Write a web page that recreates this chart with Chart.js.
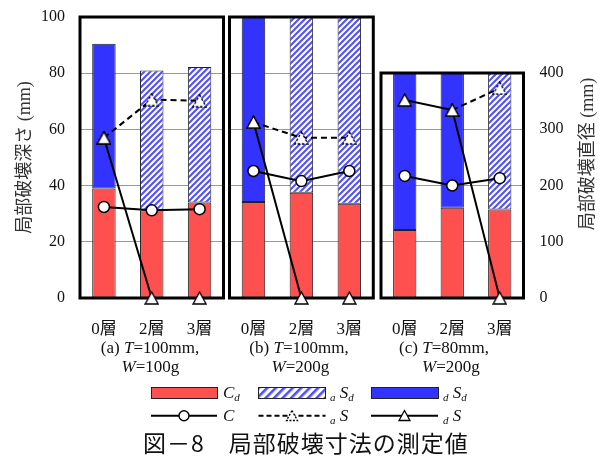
<!DOCTYPE html>
<html><head><meta charset="utf-8">
<script src="https://cdn.jsdelivr.net/npm/chart.js"></script>
<style>
html,body{margin:0;padding:0;background:#fff;}
#wrap{position:relative;width:602px;height:457px;overflow:hidden;background:#fff;}
canvas{position:absolute;left:0;top:0;}
.t{position:absolute;white-space:nowrap;color:#111;font-family:'Liberation Serif','Noto Sans CJK JP',serif;font-size:17px;line-height:19px;}
.cap{width:200px;text-align:center;}
.lg sub{font-size:11px;vertical-align:-3px;font-style:italic;line-height:0;}
#rtitle{position:absolute;width:200px;height:22px;line-height:22px;text-align:center;left:486.7px;top:143px;transform:rotate(-90deg);font-family:'Liberation Serif','Noto Sans CJK JP',serif;font-size:18px;color:#333;white-space:nowrap;}
#fig{position:absolute;left:5px;top:427px;width:602px;text-align:center;font-family:'Noto Sans CJK JP',sans-serif;font-size:23px;line-height:30px;letter-spacing:1px;color:#111;white-space:nowrap;}
</style></head>
<body><div id="wrap">
<canvas id="ca" width="602" height="457"></canvas>
<canvas id="cb" width="602" height="457"></canvas>
<canvas id="cc" width="602" height="457"></canvas>

<div class="t cap" style="left:50px;top:338px">(a) <i>T</i>=100mm,</div>
<div class="t cap" style="left:50.5px;top:357px"><i>W</i>=100g</div>
<div class="t cap" style="left:199px;top:338px">(b) <i>T</i>=100mm,</div>
<div class="t cap" style="left:200.5px;top:357px"><i>W</i>=200g</div>
<div class="t cap" style="left:344px;top:338px">(c) <i>T</i>=80mm,</div>
<div class="t cap" style="left:351px;top:357px"><i>W</i>=200g</div>

<svg style="position:absolute;left:0;top:0" width="602" height="457">
<defs>
<pattern id="hatch" width="6" height="6" patternUnits="userSpaceOnUse" patternTransform="rotate(45)">
<rect width="6" height="6" fill="#fff"/><rect width="2.6" height="6" fill="#4f4fff"/>
</pattern>
</defs>
<rect x="151.5" y="387.5" width="66" height="11" fill="#ff5050" stroke="#222" stroke-width="1"/>
<rect x="258.5" y="387.5" width="67" height="11" fill="url(#hatch)" stroke="#222" stroke-width="1"/>
<rect x="371.5" y="387.5" width="67" height="11" fill="#3333ff" stroke="#222" stroke-width="1"/>
<line x1="151" y1="415.7" x2="217" y2="415.7" stroke="#000" stroke-width="2"/>
<circle cx="184" cy="415.7" r="5" fill="#fff" stroke="#000" stroke-width="1.4"/>
<line x1="258.5" y1="415.7" x2="325.5" y2="415.7" stroke="#000" stroke-width="2" stroke-dasharray="5,3"/>
<polygon points="292,410.5 297.5,420.5 286.5,420.5" fill="#fff" stroke="#000" stroke-width="1.3" stroke-dasharray="2,1.5"/>
<line x1="371" y1="415.7" x2="438" y2="415.7" stroke="#000" stroke-width="2"/>
<polygon points="404.5,410.5 410,420.5 399,420.5" fill="#fff" stroke="#000" stroke-width="1.3"/>
</svg>
<div class="t lg" style="left:223px;top:382.7px"><i>C</i><sub>d</sub></div>
<div class="t lg" style="left:330px;top:382.7px"><sub>a</sub> <i>S</i><sub>d</sub></div>
<div class="t lg" style="left:443px;top:382.7px"><sub>d</sub> <i>S</i><sub>d</sub></div>
<div class="t lg" style="left:223px;top:405.5px"><i>C</i></div>
<div class="t lg" style="left:330px;top:405.5px"><sub>a</sub> <i>S</i></div>
<div class="t lg" style="left:443px;top:405.5px"><sub>d</sub> <i>S</i></div>

<div id="rtitle">局部破壊直径 (mm)</div>
<div id="fig">図－8　局部破壊寸法の測定値</div>
</div>
<script>
// ---- data ----
const layers = ['0層', '2層', '3層'];

// (a) T=100mm, W=100g   bars: depth (mm), lines: diameter (mm)
const cdA  = [39.0, 31.2, 34.0];
const asdA = [null, 49.8, 48.2];
const dsdA = [51.5, null, null];
const cA   = [162, 156, 158];
const asA  = [285, 353, 351];
const dsA  = [285, 0, 0];

// (b) T=100mm, W=200g
const cdB  = [34.2, 37.5, 33.5];
const asdB = [null, 68.0, 72.0];
const dsdB = [71.0, null, null];
const cB   = [226, 208, 226];
const asB  = [313, 285, 285];
const dsB  = [313, 0, 0];

// (c) T=80mm, W=200g
const cdC  = [24.2, 32.1, 31.5];
const asdC = [null, null, 54.0];
const dsdC = [62.0, 54.0, null];
const cC   = [217, 200, 213];
const asC  = [null, 334, 373];
const dsC  = [352, 334, 0];

const depthTitle = '局部破壊深さ (mm)';

// ---- styling ----
const RED = '#ff5050', BLUE = '#3333ff', EDGE = '#222';
const SERIF = "'Liberation Serif', 'Noto Sans CJK JP', serif";
const XH = 50;           // x-axis band height
const BOTTOM = 298;      // plot bottom pixel

function makeTri(dashed) {
  const c = document.createElement('canvas');
  c.width = 15; c.height = 14;
  const g = c.getContext('2d');
  g.beginPath(); g.moveTo(7.5, 1); g.lineTo(14, 13); g.lineTo(1, 13); g.closePath();
  g.fillStyle = '#fff'; g.fill();
  g.lineWidth = 1.4; g.strokeStyle = '#000';
  if (dashed) g.setLineDash([2.5, 1.8]);
  g.stroke();
  return c;
}
const triSolid = makeTri(false);
const triDashed = makeTri(true);

function makeHatch(ctx) {
  const c = document.createElement('canvas');
  c.width = 6; c.height = 6;
  const g = c.getContext('2d');
  g.fillStyle = '#fff'; g.fillRect(0, 0, 6, 6);
  g.strokeStyle = '#4f4fff'; g.lineWidth = 2;
  g.beginPath();
  g.moveTo(-1, 7); g.lineTo(7, -1);
  g.moveTo(-1, 1); g.lineTo(1, -1);
  g.moveTo(5, 7); g.lineTo(7, 5);
  g.stroke();
  return ctx.createPattern(c, 'repeat');
}

function drawFrame(chart) {
  const a = chart.chartArea, ctx = chart.ctx;
  ctx.save();
  ctx.lineWidth = 3; ctx.strokeStyle = '#000';
  ctx.strokeRect(a.left, a.top, a.right - a.left, a.bottom - a.top);
  ctx.restore();
}
const framePlugin = {
  id: 'frame',
  beforeDatasetsDraw(chart) { chart.$frameDone = false; },
  beforeDatasetDraw(chart, args) {
    if (!chart.$frameDone && args.meta.type === 'line') { drawFrame(chart); chart.$frameDone = true; }
  },
  afterDatasetsDraw(chart) { if (!chart.$frameDone) { drawFrame(chart); chart.$frameDone = true; } }
};

function panel(id, d, box) {
  const cv = document.getElementById(id);
  const hatch = makeHatch(cv.getContext('2d'));
  const barCommon = { type: 'bar', yAxisID: 'y', borderColor: EDGE, borderWidth: 1, borderSkipped: false,
                      order: 10, clip: 0, barPercentage: 0.49, categoryPercentage: 1 };
  const lineCommon = { type: 'line', yAxisID: 'y2', borderColor: '#000', borderWidth: 2, tension: 0,
                       clip: false, pointRadius: 6, pointBackgroundColor: '#fff', pointBorderColor: '#000' };
  return new Chart(cv, {
    type: 'bar',
    data: {
      labels: layers,
      datasets: [
        Object.assign({ label: 'Cd', data: d.cd, backgroundColor: RED }, barCommon),
        Object.assign({ label: 'aSd', data: d.asd, backgroundColor: hatch }, barCommon),
        Object.assign({ label: 'dSd', data: d.dsd, backgroundColor: BLUE }, barCommon),
        Object.assign({}, lineCommon, { label: 'C', data: d.c, pointStyle: 'circle', pointRadius: 5.5, pointBorderWidth: 1.5, order: 2 }),
        Object.assign({}, lineCommon, { label: 'aS', data: d.as, borderDash: [6, 4], pointStyle: triDashed, order: 1 }),
        Object.assign({}, lineCommon, { label: 'dS', data: d.ds, pointStyle: triSolid, order: 0 })
      ]
    },
    options: {
      responsive: false, animation: false, devicePixelRatio: 1,
      layout: { padding: { left: box.padL, right: box.padR, top: box.top, bottom: 457 - BOTTOM - XH } },
      plugins: { legend: { display: false }, tooltip: { enabled: false } },
      scales: {
        x: {
          stacked: true, offset: true,
          grid: { display: false }, border: { display: false },
          ticks: { padding: 13, maxRotation: 0, minRotation: 0, autoSkip: false, color: '#111', font: { family: SERIF, size: 17 } },
          afterFit: s => { s.height = XH; }
        },
        y: {
          stacked: true, position: 'left', min: 0, max: box.depthMax,
          grid: { color: '#999', lineWidth: 1, drawTicks: box.left, tickLength: 15, tickColor: 'rgba(0,0,0,0)' },
          border: { display: false },
          ticks: { display: box.left, stepSize: 20, padding: 0, color: '#111', font: { family: SERIF, size: 16 } },
          title: { display: box.left, text: depthTitle, color: '#333', padding: { top: 14, bottom: 0 },
                   font: { family: SERIF, size: 18 } },
          afterFit: s => { s.width = box.left ? 80 : 0; }
        },
        y2: {
          position: 'right', min: 0, max: box.diaMax, display: box.right,
          grid: { display: false, drawTicks: false }, border: { display: false },
          ticks: { stepSize: 100, padding: 16, color: '#111', font: { family: SERIF, size: 16 } },
          afterFit: s => { s.width = box.right ? 60 : 0; }
        }
      }
    },
    plugins: [framePlugin]
  });
}

panel('ca', { cd: cdA, asd: asdA, dsd: dsdA, c: cA, as: asA, ds: dsA },
      { padL: 0, padR: 602 - 223.5, top: 17, depthMax: 100, diaMax: 500, left: true, right: false });
panel('cb', { cd: cdB, asd: asdB, dsd: dsdB, c: cB, as: asB, ds: dsB },
      { padL: 229.5, padR: 602 - 373.3, top: 17, depthMax: 100, diaMax: 500, left: false, right: false });
panel('cc', { cd: cdC, asd: asdC, dsd: dsdC, c: cC, as: asC, ds: dsC },
      { padL: 381, padR: 602 - 523.5 - 60, top: 73, depthMax: 80, diaMax: 400, left: false, right: true });
</script>
</body></html>
